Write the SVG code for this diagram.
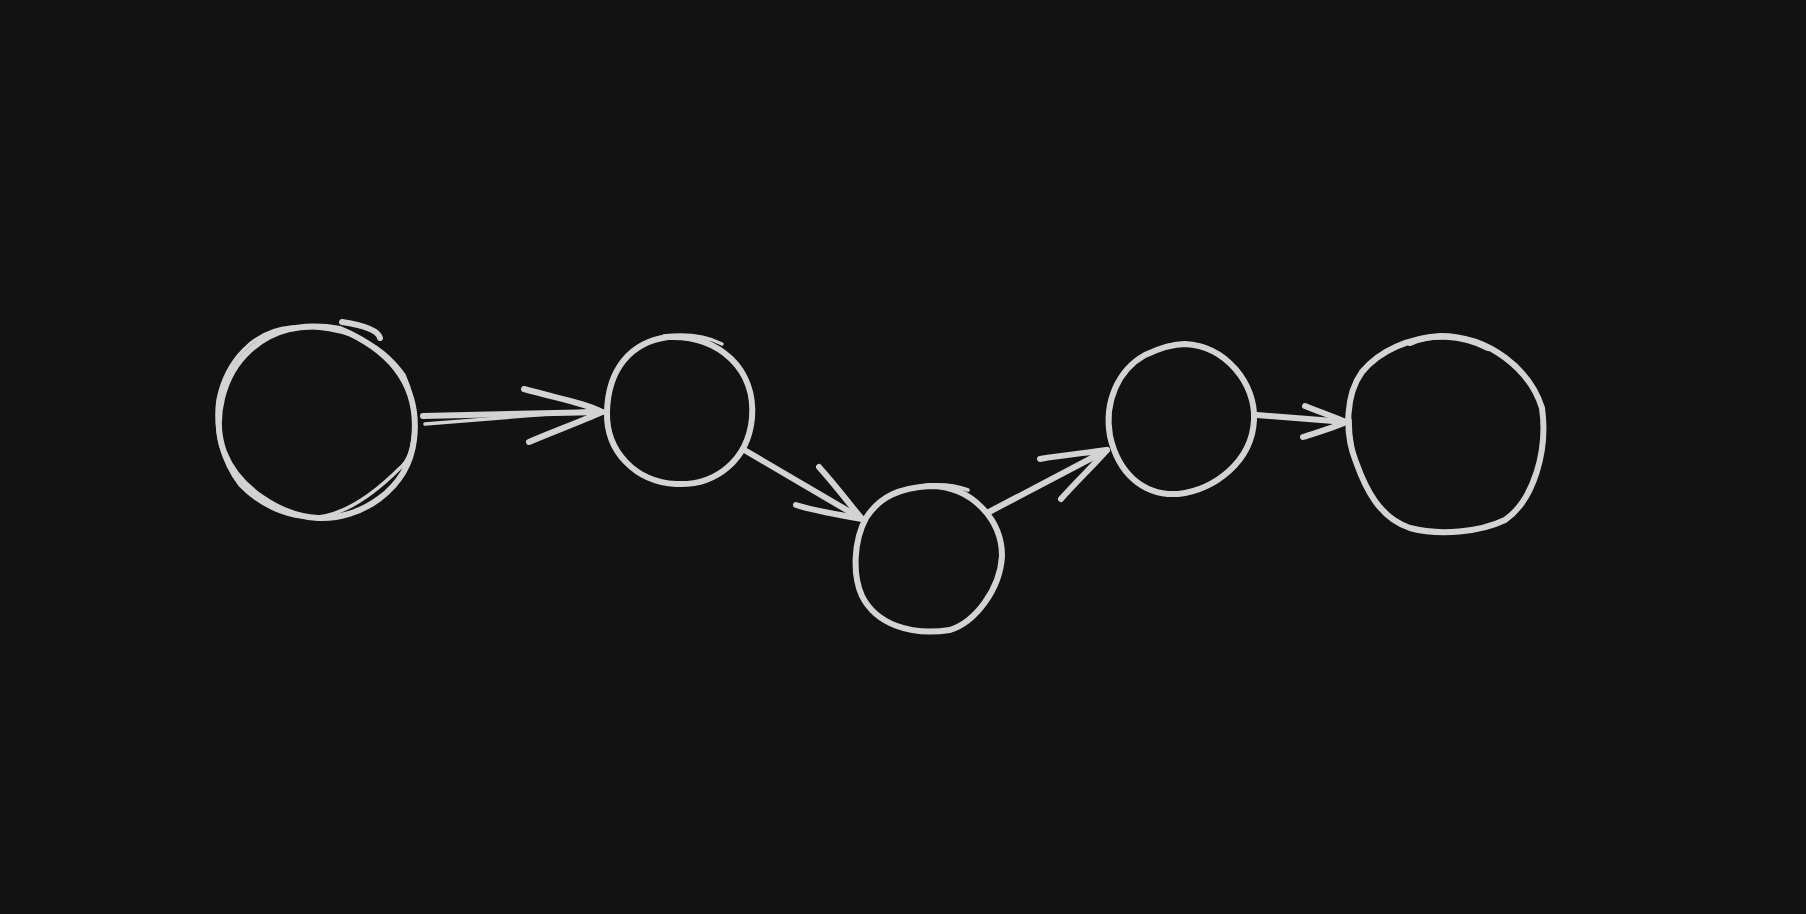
<svg xmlns="http://www.w3.org/2000/svg" width="1806" height="914" viewBox="0 0 1806 914">
<style>
.s{fill:none;stroke:#d3d3d3;stroke-width:6;stroke-linecap:round;stroke-linejoin:round}
.t{fill:none;stroke:#d3d3d3;stroke-width:3.5;stroke-linecap:round;stroke-linejoin:round}
</style>
<rect width="1806" height="914" fill="#121212"/>
<g id="node1">
<path class="s" d="M340,329 C395,352 420,390 414,440 C408,490 360,520 318,518 C280,516 238,488 224,452 C212,420 222,375 250,350 C272,330 300,322 340,329 Z"/>
<path class="t" d="M292,327 C340,326 378,338 404,375 C420,410 416,455 400,468 C378,490 352,510 325,516 C295,522 262,508 240,485 C222,462 214,430 218,400 C226,360 254,330 292,327"/>
<path class="s" d="M342,322 C362,325 378,330 380,338"/>
</g>
<g id="node2">
<path class="s" d="M668,337 C720,335 756,370 752,418 C748,460 716,486 676,484 C636,482 606,452 607,412 C608,370 630,342 668,337 Z"/>
<path class="t" d="M664,336 C690,333 708,337 722,344"/>
</g>
<g id="node3">
<path class="s" d="M930,486 C972,486 1002,520 1002,556 C1000,590 975,622 950,630 C910,636 876,624 862,596 C852,574 854,540 866,518 C880,496 900,488 930,486 Z"/>
<path class="t" d="M920,486 C940,483 955,485 968,490"/>
</g>
<g id="node4">
<path class="s" d="M1185,344 C1226,346 1256,384 1254,420 C1252,462 1214,490 1178,494 C1142,496 1118,472 1110,436 C1104,402 1118,370 1145,355 C1160,348 1172,344 1185,344 Z"/>
<path class="t" d="M1166,346 C1180,342 1196,343 1208,348"/>
</g>
<g id="node5">
<path class="s" d="M1440,336 C1490,336 1530,370 1542,408 C1548,450 1534,500 1505,520 C1480,532 1440,536 1410,528 C1380,518 1366,490 1356,462 C1344,432 1346,394 1362,372 C1380,350 1410,338 1440,336 Z"/>
<path class="s" d="M1410,343 C1430,334 1460,334 1488,348"/>
<path class="t" d="M1350,420 C1350,460 1366,495 1386,512"/>
</g>
<g id="connectors">
<path class="s" d="M423,416 L602,412"/>
<path class="t" d="M425,424 L600,410"/>
<path class="s" d="M524,389 C560,399 585,403 602,412 C580,422 552,432 529,442"/>
<path class="s" d="M746,451 L862,519"/>
<path class="s" d="M819,467 C836,486 848,502 862,519 C840,515 815,511 796,505"/>
<path class="s" d="M989,512 L1107,450"/>
<path class="s" d="M1040,459 C1062,455 1086,453 1107,450 C1092,467 1075,483 1061,499"/>
<path class="s" d="M1257,415 L1346,422"/>
<path class="s" d="M1305,406 C1320,412 1334,417 1346,422 C1333,428 1318,432 1303,437"/>
</g>
</svg>
